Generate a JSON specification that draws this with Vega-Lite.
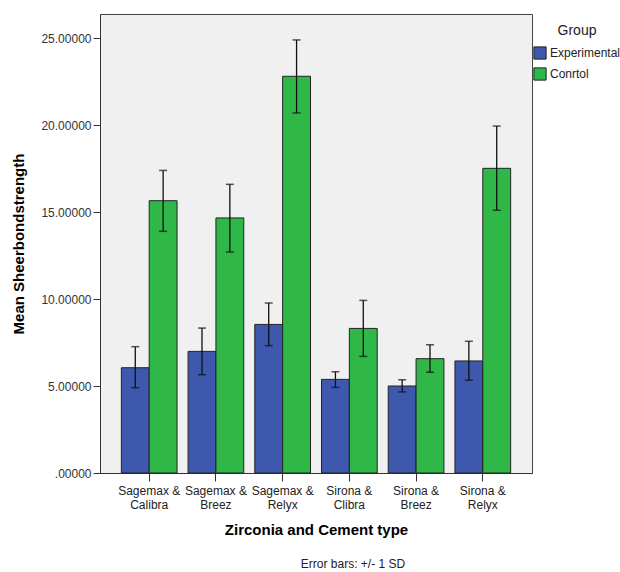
{
  "$schema": "https://vega.github.io/schema/vega-lite/v6.json",
  "width": 432,
  "height": 459,
  "autosize": "none",
  "padding": {"left": 100, "top": 14, "right": 88, "bottom": 99},
  "background": "white",
  "config": {
    "font": "Liberation Sans",
    "view": {"fill": "#f0f0f0", "stroke": "#444", "strokeWidth": 1}
  },
  "title": {
    "text": "Error bars: +/- 1 SD",
    "orient": "bottom",
    "anchor": "middle",
    "dx": 37,
    "offset": 22,
    "fontSize": 12,
    "fontWeight": "normal",
    "color": "#222",
    "font": "Liberation Sans"
  },
  "data": {
    "values": [
      {"cat": "Sagemax & Calibra", "group": "Experimental", "mean": 6.05, "lo": 4.90, "hi": 7.26},
      {"cat": "Sagemax & Calibra", "group": "Conrtol", "mean": 15.65, "lo": 13.89, "hi": 17.39},
      {"cat": "Sagemax & Breez", "group": "Experimental", "mean": 6.99, "lo": 5.65, "hi": 8.33},
      {"cat": "Sagemax & Breez", "group": "Conrtol", "mean": 14.66, "lo": 12.70, "hi": 16.59},
      {"cat": "Sagemax & Relyx", "group": "Experimental", "mean": 8.54, "lo": 7.32, "hi": 9.77},
      {"cat": "Sagemax & Relyx", "group": "Conrtol", "mean": 22.80, "lo": 20.69, "hi": 24.89},
      {"cat": "Sirona & Clibra", "group": "Experimental", "mean": 5.38, "lo": 4.92, "hi": 5.82},
      {"cat": "Sirona & Clibra", "group": "Conrtol", "mean": 8.31, "lo": 6.70, "hi": 9.92},
      {"cat": "Sirona & Breez", "group": "Experimental", "mean": 5.00, "lo": 4.66, "hi": 5.36},
      {"cat": "Sirona & Breez", "group": "Conrtol", "mean": 6.57, "lo": 5.79, "hi": 7.37},
      {"cat": "Sirona & Relyx", "group": "Experimental", "mean": 6.44, "lo": 5.33, "hi": 7.57},
      {"cat": "Sirona & Relyx", "group": "Conrtol", "mean": 17.51, "lo": 15.10, "hi": 19.94}
    ]
  },
  "encoding": {
    "x": {
      "field": "cat",
      "type": "nominal",
      "sort": null,
      "scale": {"paddingInner": 0.165, "paddingOuter": 0.32},
      "axis": {
        "title": "Zirconia and Cement type",
        "titleFontSize": 15,
        "titleFontWeight": "bold",
        "titleColor": "#000",
        "titlePadding": 12,
        "labelAngle": 0,
        "labelFontSize": 12,
        "labelColor": "#222",
        "labelExpr": "[slice(datum.label, 0, indexof(datum.label, '&') + 1), slice(datum.label, indexof(datum.label, '&') + 2)]",
        "labelLineHeight": 14,
        "labelPadding": 4,
        "tickSize": 8,
        "tickColor": "#333",
        "domainColor": "#333",
        "grid": false
      }
    },
    "xOffset": {"field": "group", "type": "nominal", "sort": ["Experimental", "Conrtol"], "scale": {"paddingInner": 0}}
  },
  "layer": [
    {
      "mark": {"type": "bar", "stroke": "#222", "strokeWidth": 1},
      "encoding": {
        "y": {
          "field": "mean",
          "type": "quantitative",
          "scale": {"domain": [0, 26.38], "nice": false},
          "axis": {
            "title": "Mean Sheerbondstrength",
            "titleFontSize": 15,
            "titleFontWeight": "bold",
            "titleColor": "#000",
            "titlePadding": 14,
            "values": [0, 5, 10, 15, 20, 25],
            "labelExpr": "datum.value == 0 ? '.00000' : format(datum.value, '.5f')",
            "labelFontSize": 12,
            "labelColor": "#333",
            "tickSize": 7,
            "tickColor": "#333",
            "domainColor": "#333",
            "grid": false
          }
        },
        "color": {
          "field": "group",
          "type": "nominal",
          "sort": ["Experimental", "Conrtol"],
          "scale": {"domain": ["Experimental", "Conrtol"], "range": ["#3e58ad", "#2fb848"]},
          "legend": {
            "title": "Group",
            "orient": "none",
            "legendX": 433,
            "legendY": 10,
            "titleFontSize": 14,
            "titleFontWeight": "normal",
            "titleColor": "#222",
            "titlePadding": 8,
            "titleAnchor": "middle",
            "labelFontSize": 12,
            "labelColor": "#222",
            "symbolType": "square",
            "symbolSize": 150,
            "symbolStrokeColor": "#222",
            "symbolStrokeWidth": 1,
            "symbolOpacity": 1,
            "rowPadding": 3,
            "labelOffset": 3
          }
        }
      }
    },
    {
      "mark": {"type": "rule", "color": "#111", "strokeWidth": 1.3},
      "encoding": {
        "y": {"field": "lo", "type": "quantitative"},
        "y2": {"field": "hi"}
      }
    },
    {
      "mark": {"type": "tick", "color": "#111", "size": 8, "thickness": 1.5},
      "encoding": {"y": {"field": "lo", "type": "quantitative"}}
    },
    {
      "mark": {"type": "tick", "color": "#111", "size": 8, "thickness": 1.5},
      "encoding": {"y": {"field": "hi", "type": "quantitative"}}
    }
  ]
}
